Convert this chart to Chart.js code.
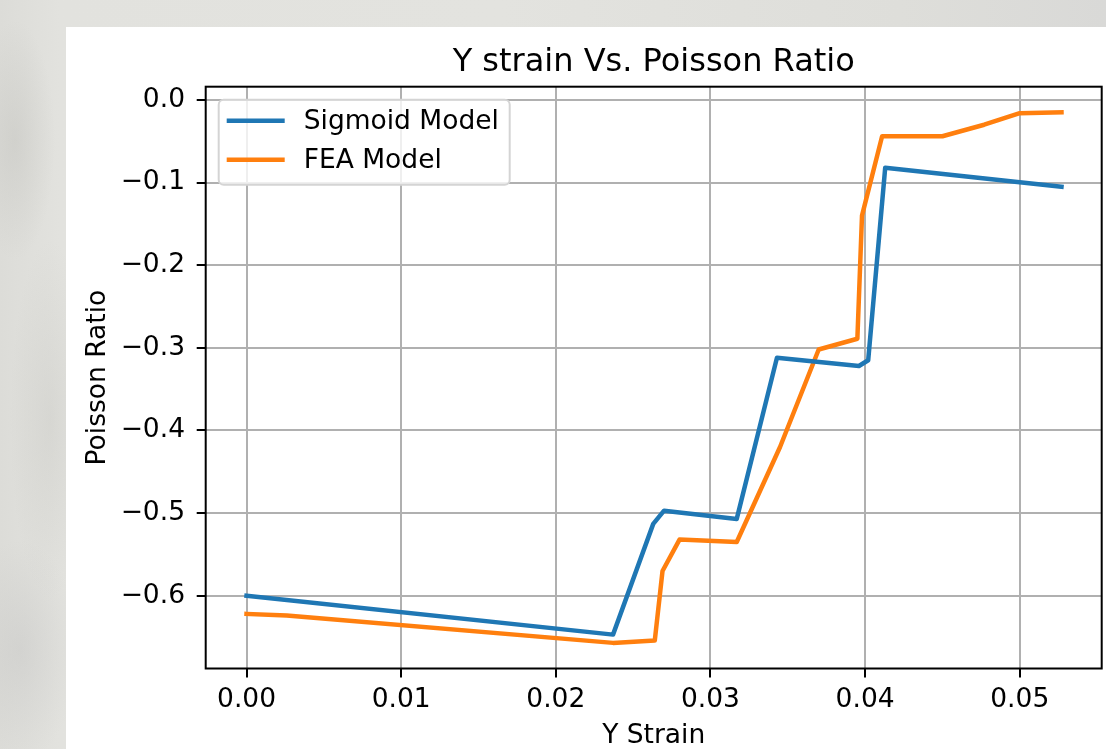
<!DOCTYPE html>
<html>
<head>
<meta charset="utf-8">
<script src="https://cdn.jsdelivr.net/npm/chart.js@4/dist/chart.umd.min.js"></script>
<style>
  html, body { margin: 0; padding: 0; }
  body {
    width: 1106px; height: 749px; overflow: hidden; position: relative;
    background:
      radial-gradient(ellipse 40px 120px at 15px 140px, rgba(185,185,180,0.35), rgba(185,185,180,0) 100%),
      radial-gradient(ellipse 40px 180px at 50px 420px, rgba(190,190,185,0.30), rgba(190,190,185,0) 100%),
      radial-gradient(ellipse 60px 110px at 20px 650px, rgba(185,185,185,0.30), rgba(185,185,185,0) 100%),
      linear-gradient(90deg, #dcdcd8 0px, #e2e2de 60px, #e3e3df 500px, #dededa 900px, #d9d9d7 1106px);
  }
  #sheet { position: absolute; left: 66px; top: 27px; width: 1040px; height: 722px; background: #fff; }
  canvas { display: block; }
</style>
</head>
<body>
<div id="sheet"><canvas id="chart" width="1040" height="722"></canvas></div>
<script>
// Sigmoid Model
const sigmoidX = [0.0, 0.0237, 0.0263, 0.0270, 0.0317, 0.0343, 0.0396, 0.0402, 0.0413, 0.0527];
const sigmoidY = [-0.600, -0.647, -0.513, -0.497, -0.507, -0.312, -0.322, -0.315, -0.082, -0.105];
// FEA Model
const feaX = [0.0, 0.0026, 0.0237, 0.0264, 0.0269, 0.0280, 0.0317, 0.0345, 0.0370, 0.0395, 0.0398, 0.0411, 0.0450, 0.0477, 0.0500, 0.0527];
const feaY = [-0.622, -0.624, -0.657, -0.654, -0.570, -0.532, -0.535, -0.420, -0.302, -0.289, -0.140, -0.044, -0.044, -0.030, -0.016, -0.015];

const xTicks = [0.00, 0.01, 0.02, 0.03, 0.04, 0.05];
const yTicks = [-0.6, -0.5, -0.4, -0.3, -0.2, -0.1, 0.0];

const FONT = "'DejaVu Sans', sans-serif";
const toPts = (xs, ys) => xs.map((x, i) => ({ x: x, y: ys[i] }));
const minus = s => s.replace('-', '\u2212');

// spines around the axes + legend box like matplotlib
const framePlugin = {
  id: 'frame',
  afterDatasetsDraw(chart) {
    const { ctx, chartArea: a } = chart;
    ctx.save();
    ctx.strokeStyle = '#000';
    ctx.lineWidth = 2;
    ctx.strokeRect(a.left, a.top, a.right - a.left, a.bottom - a.top);
    ctx.restore();
  },
  afterDraw(chart) {
    const { ctx, chartArea: a } = chart;
    const bx = a.left + 13, by = a.top + 13, bw = 291, bh = 85, r = 5;
    ctx.save();
    ctx.beginPath();
    ctx.roundRect(bx, by, bw, bh, r);
    ctx.fillStyle = 'rgba(255,255,255,0.8)';
    ctx.fill();
    ctx.strokeStyle = '#d4d4d4';
    ctx.lineWidth = 2;
    ctx.stroke();
    ctx.font = '26.5px ' + FONT;
    ctx.textBaseline = 'middle';
    ctx.fillStyle = '#000';
    chart.data.datasets.forEach((ds, i) => {
      const y = by + 21 + i * 39;
      ctx.beginPath();
      ctx.moveTo(bx + 8, y);
      ctx.lineTo(bx + 66, y);
      ctx.strokeStyle = ds.borderColor;
      ctx.lineWidth = 4.5;
      ctx.stroke();
      ctx.fillText(ds.label, bx + 85, y + 1);
    });
    ctx.restore();
  }
};

new Chart(document.getElementById('chart'), {
  type: 'scatter',
  data: {
    datasets: [
      {
        label: 'Sigmoid Model',
        data: toPts(sigmoidX, sigmoidY),
        showLine: true,
        borderColor: '#1f77b4',
        backgroundColor: '#1f77b4',
        borderWidth: 4.5,
        borderJoinStyle: 'round',
        borderCapStyle: 'square',
        pointRadius: 0,
        tension: 0
      },
      {
        label: 'FEA Model',
        data: toPts(feaX, feaY),
        showLine: true,
        borderColor: '#ff7f0e',
        backgroundColor: '#ff7f0e',
        borderWidth: 4.5,
        borderJoinStyle: 'round',
        borderCapStyle: 'square',
        pointRadius: 0,
        tension: 0
      }
    ]
  },
  options: {
    responsive: false,
    animation: false,
    layout: { padding: { left: 0, right: 4.3, top: 0, bottom: 0 } },
    plugins: {
      legend: { display: false },
      tooltip: { enabled: false },
      title: {
        display: true,
        fullSize: false,
        text: 'Y strain Vs. Poisson Ratio',
        color: '#000',
        font: { family: FONT, size: 32, weight: 'normal', lineHeight: 1.2 },
        padding: { top: 16.8, bottom: 4.5 }
      }
    },
    scales: {
      x: {
        type: 'linear',
        min: -0.00264,
        max: 0.0553,
        afterBuildTicks: s => { s.ticks = xTicks.map(v => ({ value: v })); },
        afterFit: s => { s.height = 80.5; },
        grid: { color: '#b0b0b0', lineWidth: 2, tickLength: 9, tickColor: '#000', tickWidth: 2 },
        border: { display: false },
        ticks: {
          autoSkip: false, maxRotation: 0, padding: 7, color: '#000',
          font: { family: FONT, size: 26.5 },
          callback: v => v.toFixed(2)
        },
        title: {
          display: true, text: 'Y Strain', color: '#000',
          font: { family: FONT, size: 26.5, lineHeight: 1 },
          padding: { top: 0, bottom: 0 }
        }
      },
      y: {
        type: 'linear',
        min: -0.688,
        max: 0.016,
        afterBuildTicks: s => { s.ticks = yTicks.map(v => ({ value: v })); },
        afterFit: s => { s.width = 139.7; },
        grid: { color: '#b0b0b0', lineWidth: 2, tickLength: 9, tickColor: '#000', tickWidth: 2 },
        border: { display: false },
        ticks: {
          autoSkip: false, padding: 11.7, color: '#000',
          font: { family: FONT, size: 26.5 },
          callback: v => minus(v.toFixed(1))
        },
        title: {
          display: true, text: 'Poisson Ratio', color: '#000',
          font: { family: FONT, size: 26.5, lineHeight: 1 },
          padding: { top: 18.5, bottom: 0 }
        }
      }
    }
  },
  plugins: [framePlugin]
});
</script>
</body>
</html>
